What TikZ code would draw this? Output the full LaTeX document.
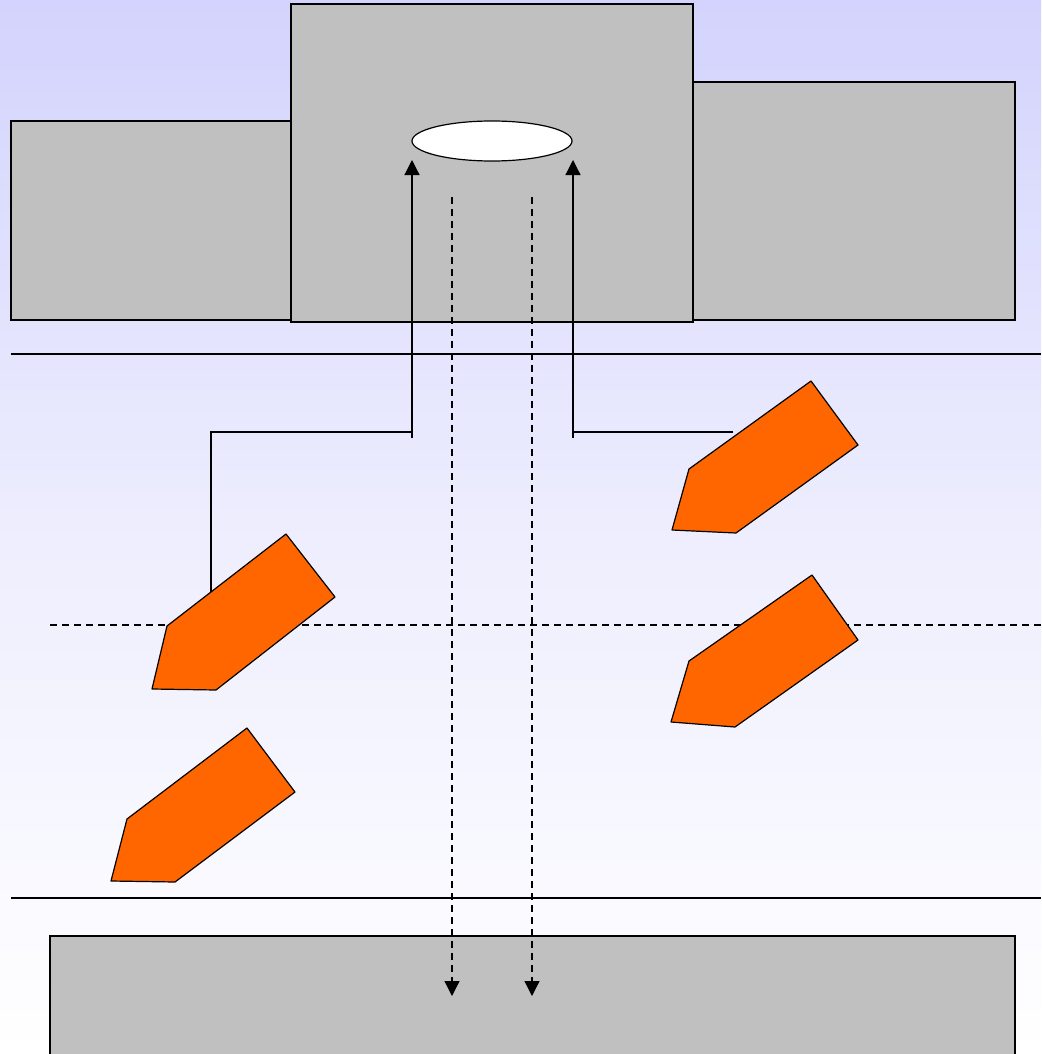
\documentclass[tikz,border=0pt]{standalone}
\usetikzlibrary{arrows.meta,shapes.geometric}
\definecolor{bgtop}{RGB}{211,211,253}
\definecolor{boxgray}{RGB}{192,192,192}
\definecolor{arroworange}{RGB}{255,102,0}
\begin{document}
\begin{tikzpicture}[x=1pt,y=-1pt,
  box/.style={draw=black,fill=boxgray,line width=1.2pt},
  orangearrow/.style={draw=black,fill=arroworange,line width=1.2pt,line join=round},
  solidline/.style={draw=black,line width=1.2pt},
  dashline/.style={draw=black,line width=1.2pt,dash pattern=on 7pt off 5pt},
  tip/.style={-{Triangle[width=15pt,length=15pt]}}]
\useasboundingbox (0,0) rectangle (1041,1054);
\clip (0,0) rectangle (1041,1054);
\shade[top color=bgtop,bottom color=white,middle color=bgtop!40!white] (0,0) rectangle (1041,1054);
% boxes
\draw[box] (11,121) rectangle (291,320);
\draw[box] (693,82) rectangle (1015,320);
\draw[box] (291,4) rectangle (693,322);
\draw[box] (50,936) rectangle (1015,1064);
% ellipse opening
\node[draw=black,fill=white,line width=1.2pt,ellipse,minimum width=160pt,minimum height=40pt,inner sep=0pt] (hole) at (492,141) {};
% horizontal lines
\draw[solidline] (11,354) -- (1041,354);
\draw[solidline] (11,898) -- (1041,898);
\draw[dashline] (50,625) -- (1041,625);
% named coordinates
\coordinate (lfoot) at (211,592);
\coordinate (lcorner) at (211,432);
\coordinate (ljoin) at (412,432);
\coordinate (lbot) at (412,438);
\coordinate (ltop) at (412,160);
\coordinate (rstart) at (733,432);
\coordinate (rjoin) at (573,432);
\coordinate (rbot) at (573,438);
\coordinate (rtop) at (573,160);
\coordinate (d1s) at (452,197);
\coordinate (d1e) at (452,996);
\coordinate (d2s) at (532,197);
\coordinate (d2e) at (532,996);
% solid connectors
\draw[solidline] (lfoot) -- (lcorner) -- (ljoin);
\draw[solidline,tip] (lbot) -- (ltop);
\draw[solidline] (rstart) -- (rjoin);
\draw[solidline,tip] (rbot) -- (rtop);
% dashed connectors
\draw[dashline,tip] (d1s) -- (d1e);
\draw[dashline,tip] (d2s) -- (d2e);
% orange arrows
\draw[orangearrow] (286,534) -- (335,597) -- (216,690) -- (152,689) -- (167,626) -- cycle;
\draw[orangearrow] (247,728) -- (295,792) -- (175,882) -- (111,881) -- (127,819) -- cycle;
\draw[orangearrow] (811,381) -- (858,445) -- (736,533) -- (672,530) -- (689,469) -- cycle;
\draw[orangearrow] (812,575) -- (858,640) -- (735,727) -- (671,722) -- (689,661) -- cycle;
\end{tikzpicture}
\end{document}
